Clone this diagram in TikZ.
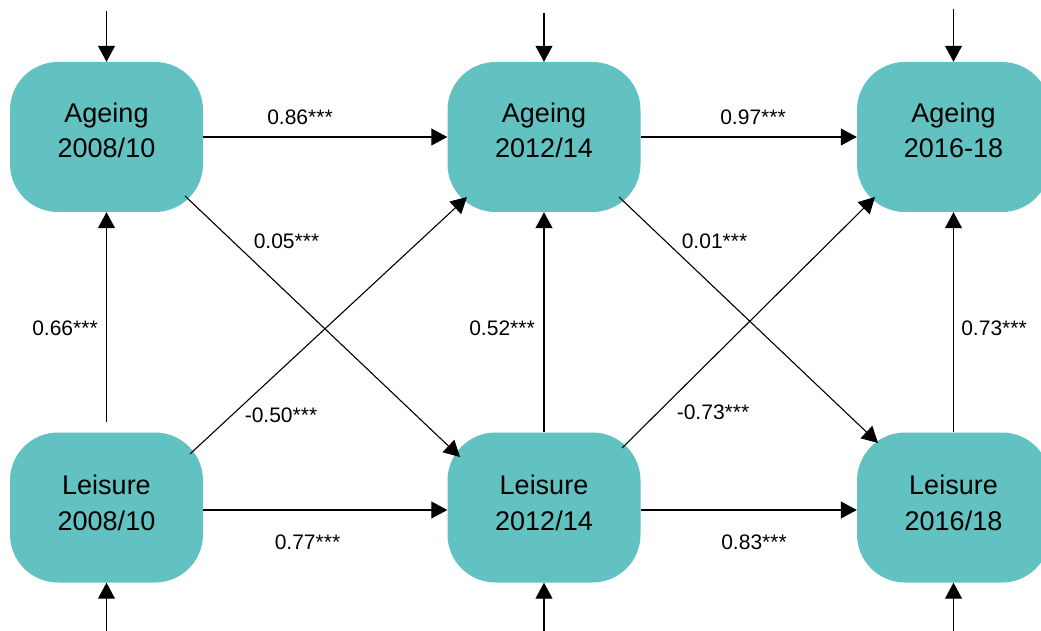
\documentclass[tikz,border=0pt]{standalone}
\usepackage{fontspec}
\setmainfont{Liberation Sans}
\usetikzlibrary{arrows.meta,calc}
\definecolor{tealbox}{HTML}{62C2C1}
\begin{document}
\begin{tikzpicture}[x=1pt,y=-1pt,
  box/.style={fill=tealbox, rounded corners=48pt, minimum width=193pt, minimum height=150pt, inner sep=0pt},
  boxtext/.style={align=center, font=\fontsize{27}{35.5}\selectfont, inner sep=0pt},
  lab/.style={font=\fontsize{21}{25}\selectfont, inner sep=0pt},
  arr/.style={line width=1.1pt, -{Triangle[length=16pt,width=17pt]}}]
\useasboundingbox (0,0) rectangle (1041,631);
\clip (0,0) rectangle (1041,631);

% boxes
\node[box] (a1) at (106.5,137) {};
\node[box] (a2) at (544,137) {};
\node[box] (a3) at (953.5,137) {};
\node[box] (l1) at (106.5,507.5) {};
\node[box] (l2) at (544,507.5) {};
\node[box] (l3) at (953.5,507.5) {};

\node[boxtext] (a1t) at (106.5,130.5) {Ageing\\2008/10};
\node[boxtext] (a2t) at (544,130.5) {Ageing\\2012/14};
\node[boxtext] (a3t) at (953.5,130.5) {Ageing\\2016-18};
\node[boxtext] (l1t) at (106.5,503) {Leisure\\2008/10};
\node[boxtext] (l2t) at (544,503) {Leisure\\2012/14};
\node[boxtext] (l3t) at (953.5,503) {Leisure\\2016/18};

% free ends
\coordinate (t1) at (106.5,11);
\coordinate (t2) at (544,13);
\coordinate (t3) at (953.5,9);
\coordinate (b1) at (106.5,640);
\coordinate (b2) at (544,640);
\coordinate (b3) at (953.5,640);

% exogenous arrows
\draw[arr] (t1) -- (a1.north);
\draw[arr] (t2) -- (a2.north);
\draw[arr] (t3) -- (a3.north);
\draw[arr] (b1) -- (l1.south);
\draw[arr] (b2) -- (l2.south);
\draw[arr] (b3) -- (l3.south);

% vertical
\draw[arr] ($(l1.north)+(0,-10)$) -- (a1.south);
\draw[arr] (l2.north) -- (a2.south);
\draw[arr] (l3.north) -- (a3.south);

% horizontal
\draw[arr] (a1.east) -- (a2.west);
\draw[arr] (a2.east) -- (a3.west);
\draw[arr] ($(l1.east)+(0,2.5)$) -- ($(l2.west)+(0,2.5)$);
\draw[arr] ($(l2.east)+(0,2.5)$) -- ($(l3.west)+(0,2.5)$);

% diagonals
\draw[arr] ($(a1)+(78.5,59)$) -- ($(l2)+(-84,-50.5)$);
\draw[arr] ($(l1)+(83.5,-53.5)$) -- ($(a2)+(-77,60)$);
\draw[arr] ($(a2)+(75,60)$) -- ($(l3)+(-75.5,-64.5)$);
\draw[arr] ($(l2)+(78,-59.5)$) -- ($(a3)+(-78.5,60)$);

% labels
\node[lab] (e1) at (300,117.5) {0.86***};
\node[lab] (e2) at (753,117.5) {0.97***};
\node[lab] (e3) at (286.5,241) {0.05***};
\node[lab] (e4) at (714.5,241) {0.01***};
\node[lab] (e5) at (65,328) {0.66***};
\node[lab] (e6) at (502,328) {0.52***};
\node[lab] (e7) at (994,328) {0.73***};
\node[lab] (e8) at (281,415) {-0.50***};
\node[lab] (e9) at (713,412) {-0.73***};
\node[lab] (e10) at (307.5,542.5) {0.77***};
\node[lab] (e11) at (754,542.5) {0.83***};
\end{tikzpicture}
\end{document}
